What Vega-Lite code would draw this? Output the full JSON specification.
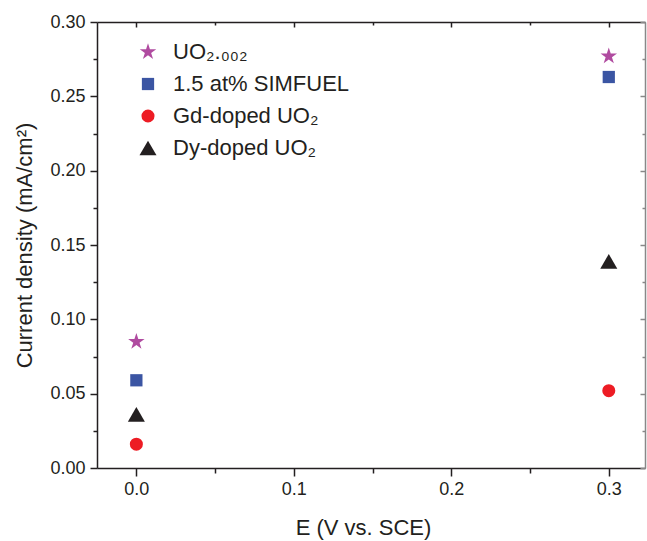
{
  "$schema": "https://vega.github.io/schema/vega-lite/v6.json",
  "width": 548,
  "height": 446,
  "autosize": {"type": "none"},
  "padding": {"left": 97, "top": 22, "right": 2, "bottom": 73},
  "background": "white",
  "config": {
    "view": {"stroke": null},
    "font": "Liberation Sans",
    "axis": {
      "domainColor": "#231f20",
      "domainWidth": 1.5,
      "tickColor": "#231f20",
      "tickWidth": 1.5,
      "labelColor": "#231f20",
      "titleColor": "#231f20",
      "labelFont": "Liberation Sans",
      "titleFont": "Liberation Sans",
      "labelFontSize": 18,
      "titleFontSize": 22,
      "titleFontWeight": "normal",
      "grid": false,
      "labelOverlap": false,
      "labelFlush": false
    },
    "legend": {
      "labelFont": "Liberation Sans",
      "labelFontSize": 22,
      "labelColor": "#231f20",
      "labelLimit": 400
    }
  },
  "data": {
    "values": [
      {"series": "UO₂.₀₀₂", "E": 0.0, "j": 0.085},
      {"series": "UO₂.₀₀₂", "E": 0.3, "j": 0.277},
      {"series": "1.5 at% SIMFUEL", "E": 0.0, "j": 0.059},
      {"series": "1.5 at% SIMFUEL", "E": 0.3, "j": 0.263},
      {"series": "Gd-doped UO₂", "E": 0.0, "j": 0.016},
      {"series": "Gd-doped UO₂", "E": 0.3, "j": 0.052},
      {"series": "Dy-doped UO₂", "E": 0.0, "j": 0.036},
      {"series": "Dy-doped UO₂", "E": 0.3, "j": 0.139}
    ]
  },
  "layer": [
    {
      "mark": {"type": "point", "filled": true, "opacity": 1, "strokeWidth": 0},
      "encoding": {
        "x": {
          "field": "E", "type": "quantitative",
          "scale": {"domain": [-0.025, 0.323], "nice": false, "zero": false},
          "axis": {
            "orient": "bottom",
            "title": "E (V vs. SCE)",
            "titlePadding": 19,
            "titleX": 266,
            "titleAlign": "center",
            "values": [0, 0.05, 0.1, 0.15, 0.2, 0.25, 0.3],
            "labelExpr": "abs(datum.value*10 - round(datum.value*10)) < 0.001 ? format(datum.value, '.1f') : ''",
            "tickSize": {"condition": {"test": "abs(datum.value*10 - round(datum.value*10)) < 0.001", "value": 8}, "value": 5},
            "labelPadding": 4
          }
        },
        "y": {
          "field": "j", "type": "quantitative",
          "scale": {"domain": [0, 0.30], "nice": false},
          "axis": {
            "orient": "left",
            "title": "Current density (mA/cm²)",
            "titlePadding": 13,
            "values": [0, 0.025, 0.05, 0.075, 0.1, 0.125, 0.15, 0.175, 0.2, 0.225, 0.25, 0.275, 0.3],
            "labelExpr": "abs(datum.value*20 - round(datum.value*20)) < 0.001 ? format(datum.value, '.2f') : ''",
            "tickSize": {"condition": {"test": "abs(datum.value*20 - round(datum.value*20)) < 0.001", "value": 7}, "value": 4},
            "labelPadding": 5
          }
        },
        "color": {
          "field": "series", "type": "nominal",
          "scale": {
            "domain": ["UO₂.₀₀₂", "1.5 at% SIMFUEL", "Gd-doped UO₂", "Dy-doped UO₂"],
            "range": ["#b04ba0", "#3b55a3", "#ed1c24", "#231f20"]
          },
          "legend": {
            "title": null,
            "orient": "none",
            "legendX": 40,
            "legendY": 19,
            "rowPadding": 10,
            "labelOffset": 14
          }
        },
        "shape": {
          "field": "series", "type": "nominal",
          "scale": {
            "domain": ["UO₂.₀₀₂", "1.5 at% SIMFUEL", "Gd-doped UO₂", "Dy-doped UO₂"],
            "range": ["M0,-1L0.2245,-0.309L0.951,-0.309L0.363,0.118L0.588,0.809L0,0.382L-0.588,0.809L-0.363,0.118L-0.951,-0.309L-0.2245,-0.309Z", "square", "circle", "triangle-up"]
          },
          "legend": {
            "title": null,
            "orient": "none",
            "legendX": 40,
            "legendY": 19,
            "rowPadding": 10,
            "labelOffset": 14
          }
        },
        "size": {
          "field": "series", "type": "nominal",
          "scale": {
            "type": "ordinal",
            "domain": ["UO₂.₀₀₂", "1.5 at% SIMFUEL", "Gd-doped UO₂", "Dy-doped UO₂"],
            "range": [300, 150, 170, 290]
          },
          "legend": {
            "title": null,
            "orient": "none",
            "legendX": 40,
            "legendY": 19,
            "rowPadding": 10,
            "labelOffset": 14
          }
        }
      }
    },
    {
      "mark": {"type": "point", "opacity": 0},
      "encoding": {
        "x": {
          "field": "E", "type": "quantitative",
          "scale": {"domain": [-0.025, 0.323], "nice": false, "zero": false},
          "axis": {
            "orient": "top",
            "title": null,
            "labels": false,
            "values": [0, 0.05, 0.1, 0.15, 0.2, 0.25, 0.3],
            "tickSize": {"condition": {"test": "abs(datum.value*10 - round(datum.value*10)) < 0.001", "value": -5}, "value": -3}
          }
        },
        "y": {
          "field": "j", "type": "quantitative",
          "scale": {"domain": [0, 0.30], "nice": false},
          "axis": {
            "orient": "right",
            "title": null,
            "labels": false,
            "domainColor": "#888888",
            "tickColor": "#888888",
            "values": [0, 0.025, 0.05, 0.075, 0.1, 0.125, 0.15, 0.175, 0.2, 0.225, 0.25, 0.275, 0.3],
            "tickSize": {"condition": {"test": "abs(datum.value*20 - round(datum.value*20)) < 0.001", "value": -5}, "value": -3}
          }
        }
      }
    }
  ],
  "resolve": {"axis": {"x": "independent", "y": "independent"}}
}
